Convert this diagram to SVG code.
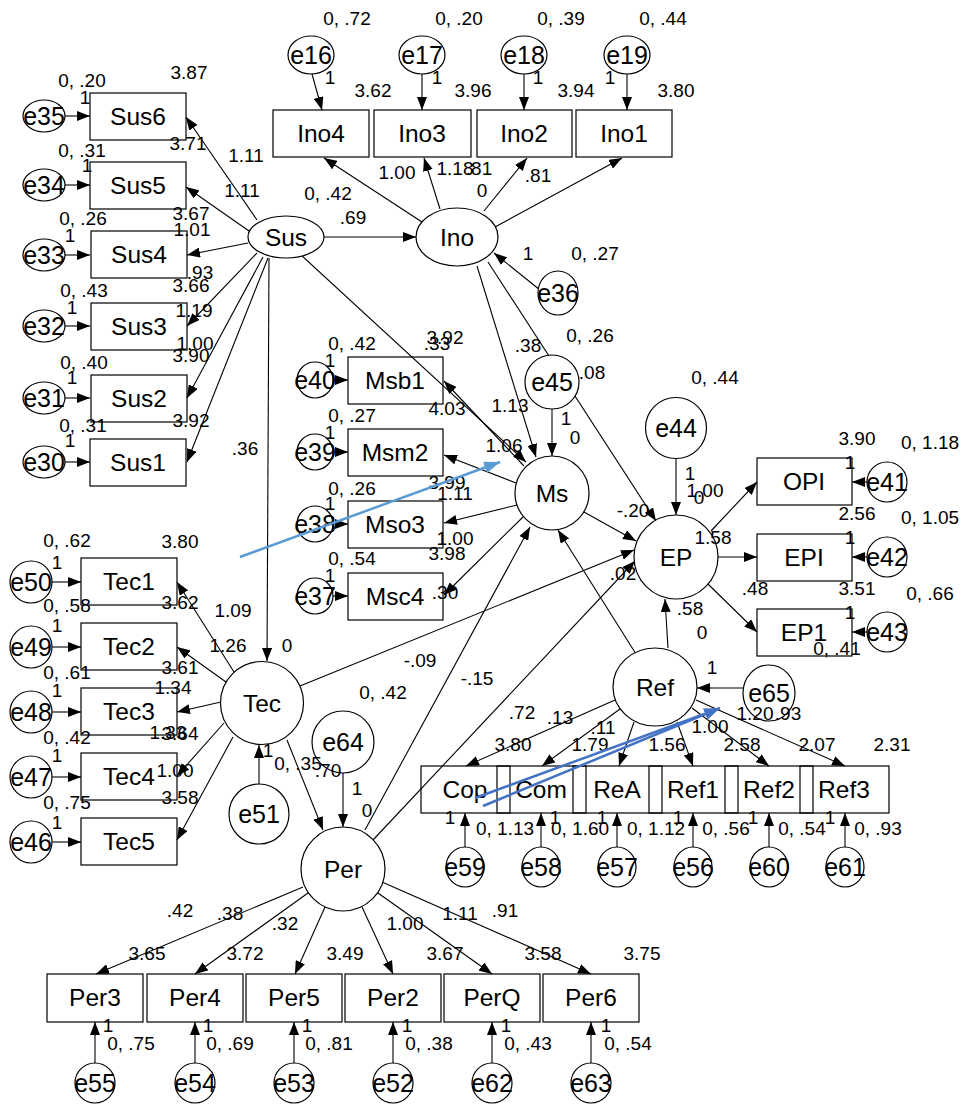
<svg xmlns="http://www.w3.org/2000/svg" width="963" height="1104" viewBox="0 0 963 1104">
<style>
.b{fill:#fff;stroke:#000;stroke-width:1.2}
.r{fill:none;stroke:#000;stroke-width:1.2}
.o{fill:none;stroke:#000;stroke-width:1.2}
.n{font-family:"Liberation Sans",Arial,sans-serif;font-size:24.5px;text-anchor:middle;fill:#000}
.e{font-size:25px}
.l{font-family:"Liberation Sans",Arial,sans-serif;font-size:19px;text-anchor:middle;fill:#000}
#conn line{stroke:#000;stroke-width:1.1;marker-end:url(#ah)}
</style>
<defs>
<marker id="ah" markerUnits="userSpaceOnUse" markerWidth="13" markerHeight="10" refX="13" refY="5" orient="auto"><path d="M0,0 L13,5 L0,10 z" fill="#000"/></marker>
<marker id="ahb1" markerUnits="userSpaceOnUse" markerWidth="16" markerHeight="12" refX="16" refY="6" orient="auto"><path d="M0,0 L16,6 L0,12 z" fill="#5B9BD5"/></marker>
<marker id="ahb2" markerUnits="userSpaceOnUse" markerWidth="16" markerHeight="12" refX="16" refY="6" orient="auto"><path d="M0,0 L16,6 L0,12 z" fill="#4472C4"/></marker>
</defs>
<rect width="963" height="1104" fill="#fff"/>
<g id="conn">
<line x1="312" y1="74" x2="322" y2="110"/>
<line x1="422" y1="74" x2="422" y2="110"/>
<line x1="524" y1="74" x2="524" y2="110"/>
<line x1="627" y1="74" x2="627" y2="110"/>
<line x1="422" y1="222" x2="324" y2="158"/>
<line x1="440" y1="209" x2="424" y2="158"/>
<line x1="484" y1="211" x2="527" y2="158"/>
<line x1="495" y1="227" x2="622" y2="158"/>
<line x1="324" y1="237" x2="416" y2="237"/>
<line x1="540" y1="290" x2="494" y2="253"/>
<line x1="477" y1="266" x2="536" y2="457"/>
<line x1="488" y1="262" x2="656" y2="521"/>
<line x1="65" y1="116" x2="90" y2="116"/>
<line x1="65" y1="185" x2="90" y2="185"/>
<line x1="65" y1="255" x2="90" y2="255"/>
<line x1="65" y1="326" x2="90" y2="326"/>
<line x1="65" y1="398" x2="90" y2="398"/>
<line x1="65" y1="462" x2="90" y2="462"/>
<line x1="257" y1="220" x2="186" y2="117"/>
<line x1="249" y1="231" x2="186" y2="187"/>
<line x1="248" y1="243" x2="187" y2="255"/>
<line x1="257" y1="253" x2="187" y2="326"/>
<line x1="263" y1="257" x2="187" y2="398"/>
<line x1="268" y1="258" x2="187" y2="462"/>
<line x1="269" y1="258" x2="267" y2="661"/>
<line x1="300" y1="254" x2="526" y2="462"/>
<line x1="333" y1="380" x2="348" y2="380"/>
<line x1="333" y1="452" x2="348" y2="452"/>
<line x1="333" y1="524" x2="348" y2="524"/>
<line x1="333" y1="596" x2="348" y2="596"/>
<line x1="524" y1="466" x2="444" y2="381"/>
<line x1="516" y1="483" x2="444" y2="455"/>
<line x1="517" y1="505" x2="444" y2="523"/>
<line x1="524" y1="516" x2="444" y2="595"/>
<line x1="552" y1="409" x2="552" y2="456"/>
<line x1="584" y1="512" x2="636" y2="541"/>
<line x1="676" y1="459" x2="676" y2="515"/>
<line x1="711" y1="531" x2="757" y2="482"/>
<line x1="718" y1="557" x2="757" y2="557"/>
<line x1="708" y1="584" x2="757" y2="632"/>
<line x1="867" y1="482" x2="852" y2="482"/>
<line x1="867" y1="557" x2="852" y2="557"/>
<line x1="867" y1="632" x2="852" y2="632"/>
<line x1="52" y1="582" x2="81" y2="582"/>
<line x1="52" y1="647" x2="81" y2="647"/>
<line x1="52" y1="712" x2="81" y2="712"/>
<line x1="52" y1="777" x2="81" y2="777"/>
<line x1="52" y1="842" x2="81" y2="842"/>
<line x1="234" y1="672" x2="177" y2="582"/>
<line x1="226" y1="682" x2="177" y2="647"/>
<line x1="221" y1="702" x2="177" y2="712"/>
<line x1="224" y1="723" x2="177" y2="776"/>
<line x1="233" y1="737" x2="177" y2="840"/>
<line x1="259" y1="784" x2="259" y2="745"/>
<line x1="300" y1="686" x2="634" y2="550"/>
<line x1="287" y1="740" x2="323" y2="830"/>
<line x1="343" y1="773" x2="343" y2="827"/>
<line x1="365" y1="830" x2="530" y2="527"/>
<line x1="373" y1="840" x2="635" y2="561"/>
<line x1="303" y1="887" x2="96" y2="974"/>
<line x1="308" y1="893" x2="195" y2="974"/>
<line x1="325" y1="907" x2="295" y2="974"/>
<line x1="362" y1="907" x2="393" y2="974"/>
<line x1="378" y1="893" x2="492" y2="974"/>
<line x1="382" y1="882" x2="591" y2="974"/>
<line x1="95" y1="1063" x2="95" y2="1022"/>
<line x1="195" y1="1063" x2="195" y2="1022"/>
<line x1="294" y1="1063" x2="294" y2="1022"/>
<line x1="393" y1="1063" x2="393" y2="1022"/>
<line x1="492" y1="1063" x2="492" y2="1022"/>
<line x1="591" y1="1063" x2="591" y2="1022"/>
<line x1="636" y1="654" x2="558" y2="530"/>
<line x1="668" y1="648" x2="665" y2="599"/>
<line x1="743" y1="688" x2="697" y2="688"/>
<line x1="615" y1="700" x2="466" y2="766"/>
<line x1="620" y1="709" x2="542" y2="766"/>
<line x1="634" y1="722" x2="619" y2="766"/>
<line x1="677" y1="722" x2="693" y2="766"/>
<line x1="692" y1="708" x2="769" y2="766"/>
<line x1="696" y1="700" x2="845" y2="766"/>
<line x1="465" y1="847" x2="465" y2="813"/>
<line x1="541" y1="847" x2="541" y2="813"/>
<line x1="617" y1="847" x2="617" y2="813"/>
<line x1="693" y1="847" x2="693" y2="813"/>
<line x1="769" y1="847" x2="769" y2="813"/>
<line x1="845" y1="847" x2="845" y2="813"/>
</g>
<g id="Ino4"><rect class="r" x="273" y="110" width="96" height="47"/><text class="n" x="321" y="142">Ino4</text></g>
<g id="Ino3"><rect class="r" x="374" y="110" width="97" height="47"/><text class="n" x="422" y="142">Ino3</text></g>
<g id="Ino2"><rect class="r" x="477" y="110" width="95" height="47"/><text class="n" x="524" y="142">Ino2</text></g>
<g id="Ino1"><rect class="r" x="576" y="110" width="96" height="47"/><text class="n" x="624" y="142">Ino1</text></g>
<g id="e16"><ellipse class="b" cx="311" cy="55" rx="23" ry="19"/><text class="n e" x="311" y="64">e16</text></g>
<g id="e17"><ellipse class="b" cx="422" cy="55" rx="23" ry="19"/><text class="n e" x="422" y="64">e17</text></g>
<g id="e18"><ellipse class="b" cx="524" cy="55" rx="23" ry="19"/><text class="n e" x="524" y="64">e18</text></g>
<g id="e19"><ellipse class="b" cx="627" cy="55" rx="23" ry="19"/><text class="n e" x="627" y="64">e19</text></g>
<g id="Sus"><ellipse class="b" cx="286" cy="237" rx="38" ry="21"/><text class="n" x="286" y="246">Sus</text></g>
<g id="Ino"><ellipse class="b" cx="457" cy="237" rx="41" ry="29"/><text class="n" x="457" y="246">Ino</text></g>
<g id="e36"><ellipse class="b" cx="558" cy="293" rx="20" ry="22"/><text class="n e" x="558" y="302">e36</text></g>
<g id="Sus6"><rect class="r" x="90" y="93" width="96" height="47"/><text class="n" x="138" y="125">Sus6</text></g>
<g id="Sus5"><rect class="r" x="90" y="162" width="96" height="47"/><text class="n" x="138" y="194">Sus5</text></g>
<g id="Sus4"><rect class="r" x="91" y="231" width="96" height="47"/><text class="n" x="139" y="263">Sus4</text></g>
<g id="Sus3"><rect class="r" x="91" y="303" width="96" height="47"/><text class="n" x="139" y="335">Sus3</text></g>
<g id="Sus2"><rect class="r" x="91" y="375" width="96" height="47"/><text class="n" x="139" y="407">Sus2</text></g>
<g id="Sus1"><rect class="r" x="90" y="439" width="96" height="47"/><text class="n" x="138" y="471">Sus1</text></g>
<g id="e35"><ellipse class="b" cx="44" cy="116" rx="21" ry="16"/><text class="n e" x="44" y="125">e35</text></g>
<g id="e34"><ellipse class="b" cx="44" cy="185" rx="21" ry="16"/><text class="n e" x="44" y="194">e34</text></g>
<g id="e33"><ellipse class="b" cx="44" cy="255" rx="21" ry="16"/><text class="n e" x="44" y="264">e33</text></g>
<g id="e32"><ellipse class="b" cx="44" cy="326" rx="21" ry="16"/><text class="n e" x="44" y="335">e32</text></g>
<g id="e31"><ellipse class="b" cx="44" cy="398" rx="21" ry="16"/><text class="n e" x="44" y="407">e31</text></g>
<g id="e30"><ellipse class="b" cx="44" cy="462" rx="21" ry="16"/><text class="n e" x="44" y="471">e30</text></g>
<g id="Msb1"><rect class="r" x="348" y="357" width="95" height="47"/><text class="n" x="395" y="389">Msb1</text></g>
<g id="Msm2"><rect class="r" x="348" y="429" width="95" height="47"/><text class="n" x="395" y="461">Msm2</text></g>
<g id="Mso3"><rect class="r" x="348" y="501" width="95" height="47"/><text class="n" x="395" y="533">Mso3</text></g>
<g id="Msc4"><rect class="r" x="348" y="573" width="95" height="47"/><text class="n" x="395" y="605">Msc4</text></g>
<g id="e40"><circle class="b" cx="315" cy="380" r="18"/><text class="n e" x="315" y="389">e40</text></g>
<g id="e39"><circle class="b" cx="315" cy="452" r="18"/><text class="n e" x="315" y="461">e39</text></g>
<g id="e38"><circle class="b" cx="315" cy="524" r="18"/><text class="n e" x="315" y="533">e38</text></g>
<g id="e37"><circle class="b" cx="315" cy="596" r="18"/><text class="n e" x="315" y="605">e37</text></g>
<g id="Ms"><circle class="b" cx="552" cy="493" r="37"/><text class="n" x="552" y="502">Ms</text></g>
<g id="e45"><circle class="b" cx="552" cy="382" r="27"/><text class="n e" x="552" y="391">e45</text></g>
<g id="EP"><circle class="b" cx="676" cy="557" r="42"/><text class="n" x="676" y="566">EP</text></g>
<g id="e44"><circle class="b" cx="676" cy="428" r="30.5"/><text class="n e" x="676" y="437">e44</text></g>
<g id="OPI"><rect class="r" x="757" y="458" width="95" height="47"/><text class="n" x="804" y="490">OPI</text></g>
<g id="EPI"><rect class="r" x="757" y="534" width="95" height="47"/><text class="n" x="804" y="566">EPI</text></g>
<g id="EP1"><rect class="r" x="757" y="609" width="95" height="47"/><text class="n" x="804" y="641">EP1</text></g>
<g id="e41"><circle class="b" cx="887" cy="482" r="20"/><text class="n e" x="887" y="491">e41</text></g>
<g id="e42"><circle class="b" cx="887" cy="557" r="20"/><text class="n e" x="887" y="566">e42</text></g>
<g id="e43"><circle class="b" cx="887" cy="632" r="20"/><text class="n e" x="887" y="641">e43</text></g>
<g id="Tec1"><rect class="r" x="81" y="558" width="96" height="47"/><text class="n" x="129" y="590">Tec1</text></g>
<g id="Tec2"><rect class="r" x="81" y="623" width="96" height="47"/><text class="n" x="129" y="655">Tec2</text></g>
<g id="Tec3"><rect class="r" x="81" y="688" width="96" height="47"/><text class="n" x="129" y="720">Tec3</text></g>
<g id="Tec4"><rect class="r" x="81" y="753" width="96" height="47"/><text class="n" x="129" y="785">Tec4</text></g>
<g id="Tec5"><rect class="r" x="81" y="818" width="96" height="47"/><text class="n" x="129" y="850">Tec5</text></g>
<g id="e50"><circle class="b" cx="31" cy="582" r="21"/><text class="n e" x="31" y="591">e50</text></g>
<g id="e49"><circle class="b" cx="31" cy="647" r="21"/><text class="n e" x="31" y="656">e49</text></g>
<g id="e48"><circle class="b" cx="31" cy="712" r="21"/><text class="n e" x="31" y="721">e48</text></g>
<g id="e47"><circle class="b" cx="31" cy="777" r="21"/><text class="n e" x="31" y="786">e47</text></g>
<g id="e46"><circle class="b" cx="31" cy="842" r="21"/><text class="n e" x="31" y="851">e46</text></g>
<g id="Tec"><circle class="b" cx="262" cy="703" r="41.5"/><text class="n" x="262" y="712">Tec</text></g>
<g id="e51"><circle class="b" cx="259" cy="814" r="30"/><text class="n e" x="259" y="823">e51</text></g>
<g id="Per"><circle class="b" cx="343" cy="869" r="42"/><text class="n" x="343" y="878">Per</text></g>
<g id="e64"><circle class="b" cx="343" cy="742" r="31"/><text class="n e" x="343" y="751">e64</text></g>
<g id="Per3"><rect class="r" x="47" y="974" width="96" height="48"/><text class="n" x="95" y="1006">Per3</text></g>
<g id="Per4"><rect class="r" x="147" y="974" width="96" height="48"/><text class="n" x="195" y="1006">Per4</text></g>
<g id="Per5"><rect class="r" x="246" y="974" width="96" height="48"/><text class="n" x="294" y="1006">Per5</text></g>
<g id="Per2"><rect class="r" x="345" y="974" width="96" height="48"/><text class="n" x="393" y="1006">Per2</text></g>
<g id="PerQ"><rect class="r" x="444" y="974" width="96" height="48"/><text class="n" x="492" y="1006">PerQ</text></g>
<g id="Per6"><rect class="r" x="543" y="974" width="96" height="48"/><text class="n" x="591" y="1006">Per6</text></g>
<g id="e55"><circle class="b" cx="95" cy="1083" r="20"/><text class="n e" x="95" y="1092">e55</text></g>
<g id="e54"><circle class="b" cx="195" cy="1083" r="20"/><text class="n e" x="195" y="1092">e54</text></g>
<g id="e53"><circle class="b" cx="294" cy="1083" r="20"/><text class="n e" x="294" y="1092">e53</text></g>
<g id="e52"><circle class="b" cx="393" cy="1083" r="20"/><text class="n e" x="393" y="1092">e52</text></g>
<g id="e62"><circle class="b" cx="492" cy="1083" r="20"/><text class="n e" x="492" y="1092">e62</text></g>
<g id="e63"><circle class="b" cx="591" cy="1083" r="20"/><text class="n e" x="591" y="1092">e63</text></g>
<g id="Ref"><ellipse class="b" cx="655" cy="687" rx="42" ry="39"/><text class="n" x="655" y="696">Ref</text></g>
<g id="e65"><ellipse class="b" cx="769" cy="693" rx="26" ry="28"/><text class="n e" x="769" y="702">e65</text></g>
<g id="Cop"><rect class="o" x="421" y="766" width="89" height="47"/><text class="n" x="465" y="798">Cop</text></g>
<g id="Com"><rect class="o" x="497" y="766" width="89" height="47"/><text class="n" x="541" y="798">Com</text></g>
<g id="ReA"><rect class="o" x="573" y="766" width="89" height="47"/><text class="n" x="617" y="798">ReA</text></g>
<g id="Ref1"><rect class="o" x="649" y="766" width="89" height="47"/><text class="n" x="693" y="798">Ref1</text></g>
<g id="Ref2"><rect class="o" x="725" y="766" width="88" height="47"/><text class="n" x="769" y="798">Ref2</text></g>
<g id="Ref3"><rect class="o" x="800" y="766" width="89" height="47"/><text class="n" x="844" y="798">Ref3</text></g>
<g id="e59"><ellipse class="b" cx="465" cy="867" rx="19" ry="20"/><text class="n e" x="465" y="876">e59</text></g>
<g id="e58"><ellipse class="b" cx="541" cy="867" rx="19" ry="20"/><text class="n e" x="541" y="876">e58</text></g>
<g id="e57"><ellipse class="b" cx="617" cy="867" rx="19" ry="20"/><text class="n e" x="617" y="876">e57</text></g>
<g id="e56"><ellipse class="b" cx="693" cy="867" rx="19" ry="20"/><text class="n e" x="693" y="876">e56</text></g>
<g id="e60"><ellipse class="b" cx="769" cy="867" rx="19" ry="20"/><text class="n e" x="769" y="876">e60</text></g>
<g id="e61"><ellipse class="b" cx="845" cy="867" rx="19" ry="20"/><text class="n e" x="845" y="876">e61</text></g>
<g id="labels" class="l">
<text x="347" y="25">0, .72</text><text x="459" y="25">0, .20</text><text x="561" y="25">0, .39</text><text x="663" y="25">0, .44</text>
<text x="330" y="84">1</text><text x="373" y="97">3.62</text><text x="437" y="84">1</text><text x="473" y="97">3.96</text><text x="538" y="84">1</text><text x="576" y="97">3.94</text><text x="610" y="84">1</text><text x="676" y="97">3.80</text>
<text x="397" y="179">1.00</text><text x="455" y="175">1.18</text><text x="479" y="175">.81</text><text x="538" y="182">.81</text><text x="482" y="197">0</text><text x="328" y="200">0, .42</text><text x="353" y="224">.69</text>
<text x="528" y="260">1</text><text x="595" y="260">0, .27</text>
<text x="82" y="87">0, .20</text><text x="189" y="79">3.87</text><text x="85" y="104">1</text><text x="188" y="150">3.71</text><text x="246" y="162">1.11</text><text x="82" y="157">0, .31</text><text x="87" y="172">1</text><text x="242" y="197">1.11</text><text x="191" y="220">3.67</text><text x="192" y="236">1.01</text><text x="83" y="225">0, .26</text><text x="70" y="242">1</text>
<text x="200" y="279">.93</text><text x="191" y="292">3.66</text><text x="84" y="297">0, .43</text><text x="72" y="314">1</text><text x="194" y="317">1.19</text><text x="195" y="350">1.00</text><text x="191" y="362">3.90</text><text x="84" y="369">0, .40</text><text x="72" y="384">1</text><text x="191" y="427">3.92</text><text x="83" y="432">0, .31</text><text x="70" y="447">1</text><text x="245" y="455">.36</text>
<text x="352" y="350">0, .42</text><text x="330" y="367">1</text><text x="445" y="344">3.92</text><text x="437" y="350">.33</text><text x="447" y="415">4.03</text><text x="352" y="422">0, .27</text><text x="330" y="439">1</text><text x="447" y="489">3.99</text><text x="455" y="500">1.11</text><text x="352" y="495">0, .26</text><text x="330" y="510">1</text><text x="455" y="545">1.00</text><text x="447" y="560">3.98</text><text x="352" y="565">0, .54</text><text x="330" y="582">1</text><text x="445" y="599">.30</text>
<text x="510" y="412">1.13</text><text x="504" y="452">1.06</text><text x="528" y="352">.38</text><text x="590" y="342">0, .26</text><text x="592" y="379">.08</text><text x="566" y="425">1</text><text x="575" y="444">0</text>
<text x="715" y="384">0, .44</text><text x="690" y="480">1</text><text x="705" y="497">1.00</text><text x="699" y="504">0</text><text x="633" y="517">-.20</text><text x="623" y="580">.02</text><text x="713" y="544">1.58</text><text x="755" y="595">.48</text><text x="690" y="615">.58</text><text x="702" y="639">0</text>
<text x="857" y="445">3.90</text><text x="930" y="449">0, 1.18</text><text x="850" y="469">1</text><text x="857" y="520">2.56</text><text x="930" y="524">0, 1.05</text><text x="850" y="544">1</text><text x="857" y="595">3.51</text><text x="930" y="600">0, .66</text><text x="850" y="619">1</text><text x="837" y="655">0, .41</text>
<text x="67" y="547">0, .62</text><text x="180" y="548">3.80</text><text x="57" y="569">1</text><text x="180" y="609">3.62</text><text x="67" y="612">0, .58</text><text x="233" y="617">1.09</text><text x="57" y="632">1</text><text x="228" y="652">1.26</text><text x="287" y="652">0</text><text x="180" y="674">3.61</text><text x="67" y="679">0, .61</text><text x="173" y="694">1.34</text><text x="57" y="697">1</text><text x="168" y="739">1.33</text><text x="180" y="740">3.64</text><text x="67" y="744">0, .42</text><text x="57" y="762">1</text><text x="175" y="777">1.00</text><text x="180" y="804">3.58</text><text x="67" y="809">0, .75</text><text x="57" y="829">1</text>
<text x="268" y="757">1</text><text x="298" y="770">0, .35</text><text x="328" y="777">.70</text>
<text x="383" y="699">0, .42</text><text x="420" y="667">-.09</text><text x="477" y="685">-.15</text><text x="357" y="795">1</text><text x="367" y="817">0</text>
<text x="180" y="917">.42</text><text x="230" y="920">.38</text><text x="285" y="930">.32</text><text x="147" y="960">3.65</text><text x="245" y="960">3.72</text><text x="345" y="960">3.49</text><text x="405" y="930">1.00</text><text x="460" y="920">1.11</text><text x="505" y="917">.91</text><text x="445" y="960">3.67</text><text x="543" y="960">3.58</text><text x="642" y="960">3.75</text>
<text x="108" y="1032">1</text><text x="208" y="1032">1</text><text x="307" y="1032">1</text><text x="407" y="1032">1</text><text x="506" y="1032">1</text><text x="606" y="1032">1</text>
<text x="131" y="1050">0, .75</text><text x="230" y="1050">0, .69</text><text x="329" y="1050">0, .81</text><text x="429" y="1050">0, .38</text><text x="528" y="1050">0, .43</text><text x="628" y="1050">0, .54</text>
<text x="712" y="674">1</text><text x="522" y="719">.72</text><text x="560" y="724">.13</text><text x="603" y="734">.11</text><text x="513" y="751">3.80</text><text x="590" y="751">1.79</text><text x="667" y="751">1.56</text><text x="710" y="733">1.00</text><text x="755" y="720">1.20</text><text x="788" y="720">.93</text><text x="742" y="751">2.58</text><text x="817" y="751">2.07</text><text x="892" y="751">2.31</text>
<text x="450" y="824">1</text><text x="555" y="824">1</text><text x="602" y="824">1</text><text x="678" y="824">1</text><text x="753" y="824">1</text><text x="830" y="824">1</text>
<text x="505" y="835">0, 1.13</text><text x="580" y="835">0, 1.60</text><text x="656" y="835">0, 1.12</text><text x="726" y="835">0, .56</text><text x="802" y="835">0, .54</text><text x="878" y="835">0, .93</text>
</g>
<g id="blue-arrows" fill="none" stroke-width="2.5">
<line x1="240" y1="557" x2="500" y2="462" stroke="#5B9BD5" marker-end="url(#ahb1)"/>
<line x1="475" y1="798" x2="718" y2="709" stroke="#4472C4"/>
<line x1="483" y1="806" x2="720" y2="708" stroke="#4472C4" marker-end="url(#ahb2)"/>
</g>
</svg>
